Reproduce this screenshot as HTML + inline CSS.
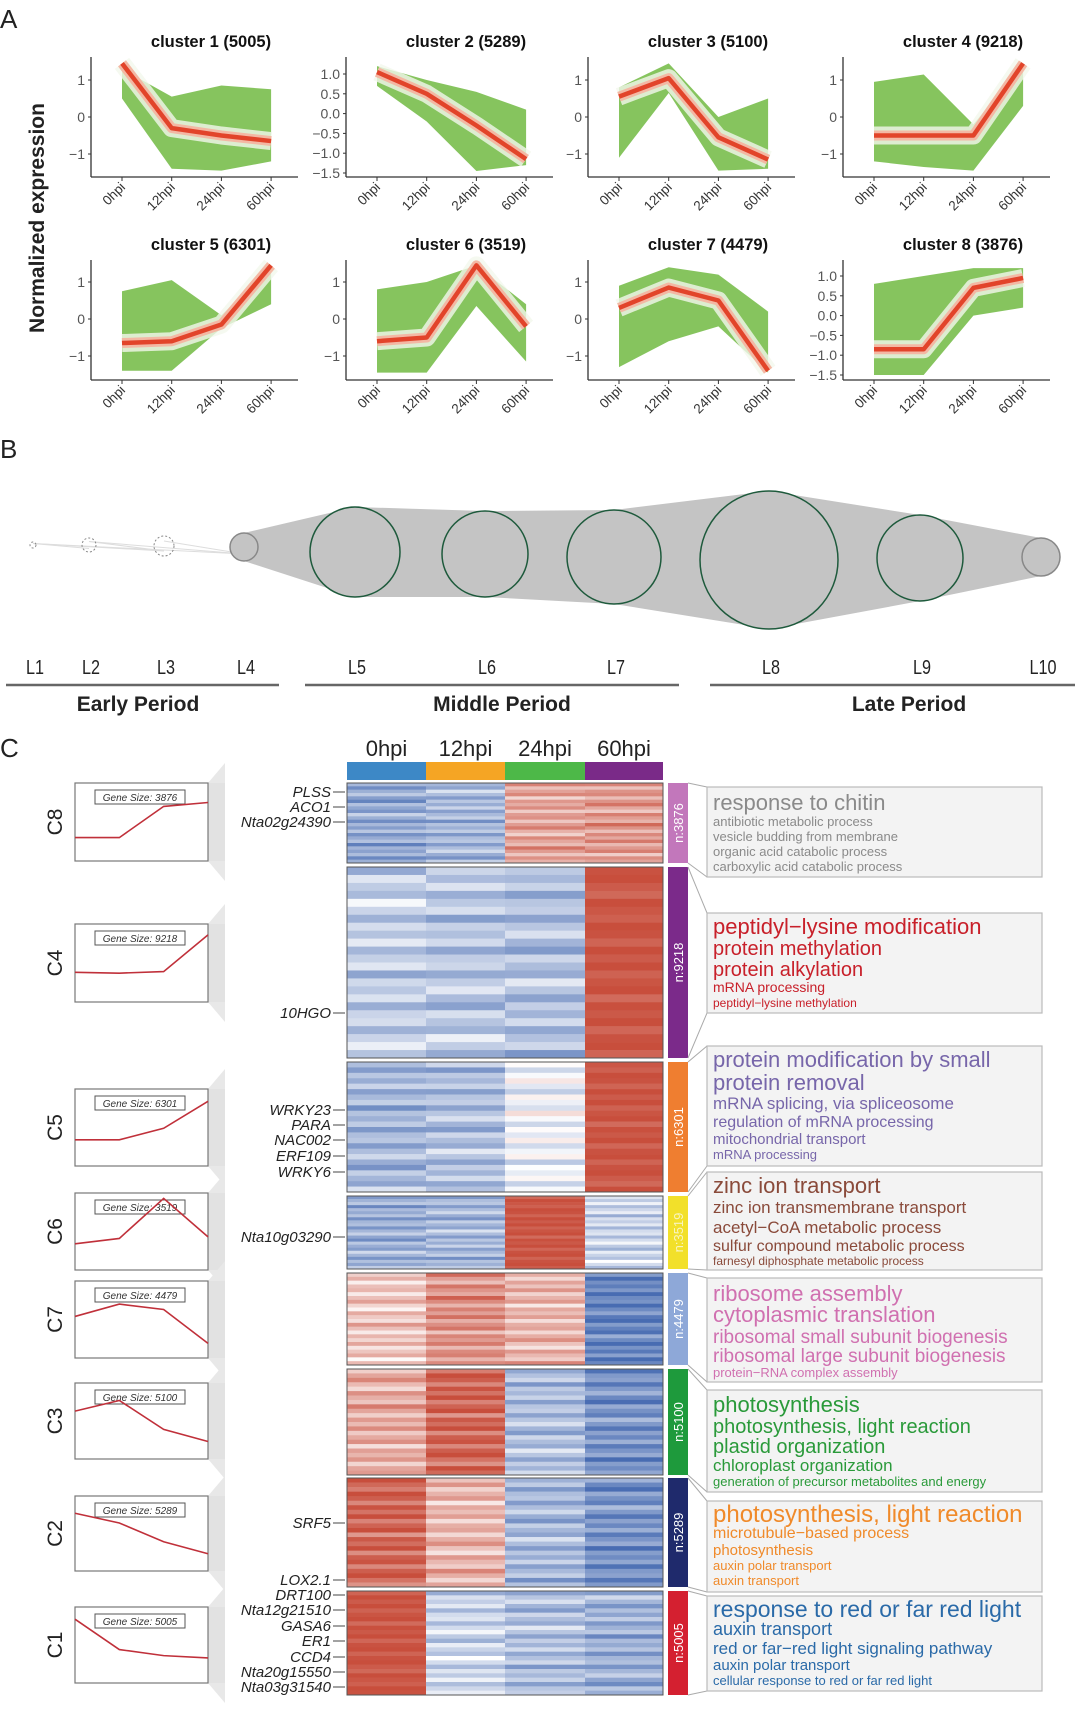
<!DOCTYPE html>
<html><head><meta charset="utf-8">
<style>
html,body{margin:0;padding:0;background:#fff;}
svg{display:block;font-family:"Liberation Sans",Arial,sans-serif;}
</style></head>
<body>
<svg id="fig" width="1080" height="1725" viewBox="0 0 1080 1725" xmlns="http://www.w3.org/2000/svg">
<text x="0" y="28" font-size="26" fill="#222">A</text>
<text x="0" y="458" font-size="26" fill="#222">B</text>
<text x="0" y="757" font-size="26" fill="#222">C</text>
<text transform="translate(44,218) rotate(-90)" text-anchor="middle" font-size="21" font-weight="bold" fill="#222">Normalized expression</text>
<g id="panelA"></g><g id="panelB"></g><g id="panelC"></g>
</svg>
<script>
// ---------- Panel A data ----------
const timeLabels = ["0hpi","12hpi","24hpi","60hpi"];
const clusterNames = ["cluster 1 (5005)","cluster 2 (5289)","cluster 3 (5100)","cluster 4 (9218)","cluster 5 (6301)","cluster 6 (3519)","cluster 7 (4479)","cluster 8 (3876)"];
const clusterCenter = [[1.45,-0.3,-0.5,-0.65],[1.05,0.5,-0.3,-1.15],[0.55,1.05,-0.55,-1.15],[-0.5,-0.5,-0.5,1.45],[-0.65,-0.6,-0.15,1.45],[-0.6,-0.5,1.45,-0.2],[0.3,0.85,0.5,-1.4],[-0.85,-0.85,0.7,0.95]];
const clusterUpper = [[1.3,0.55,0.85,0.75],[1.2,0.85,0.55,0.1],[0.8,1.45,0.0,0.5],[0.95,1.15,-0.2,1.45],[0.75,1.05,0.1,1.45],[0.8,1.0,1.45,0.4],[0.9,1.4,1.2,0.2],[0.8,1.0,1.2,1.2]];
const clusterLower = [[0.5,-1.4,-1.45,-1.2],[0.7,-0.2,-1.45,-1.3],[-1.1,0.65,-1.45,-1.4],[-1.2,-1.35,-1.45,0.3],[-1.4,-1.4,-0.25,0.4],[-1.45,-1.45,0.35,-1.15],[-1.3,-0.6,-0.2,-1.45],[-1.5,-1.5,0.0,0.2]];
const intTicks = ["1","0","\u22121"];
const intTickVals = [1,0,-1];
const decTicks = ["1.0","0.5","0.0","\u22120.5","\u22121.0","\u22121.5"];
const decTickVals = [1,0.5,0,-0.5,-1,-1.5];
const decimalPanels = [1,7];

// ---------- Panel B data ----------
const layerLabels = ["L1","L2","L3","L4","L5","L6","L7","L8","L9","L10"];
const layerSizes = [3,7,10,14,45,43,47,69,43,19];
const periodNames = ["Early Period","Middle Period","Late Period"];

// ---------- Panel C data ----------
const hmClusters = ["C8","C4","C5","C6","C7","C3","C2","C1"];
const hmCounts = ["n:3876","n:9218","n:6301","n:3519","n:4479","n:5100","n:5289","n:5005"];
const hmValues = [[-0.6,-0.5,0.5,0.55],[-0.35,-0.4,-0.45,0.95],[-0.5,-0.45,-0.1,0.95],[-0.55,-0.5,0.95,-0.3],[0.3,0.6,0.4,-0.85],[0.45,0.85,-0.45,-0.75],[0.85,0.4,-0.5,-0.75],[0.95,-0.3,-0.45,-0.55]];
const stripeNoise = [0.2,-0.3,0.1,0.4,-0.1,-0.4,0.3,0.0,-0.2,0.5,0.1,-0.3,0.2,-0.1,0.35,-0.25,0.05,0.3,-0.45,0.15,-0.05,0.25,-0.35,0.1];
const trendValues = [[0.7,0.7,0.3,0.25],[0.62,0.63,0.61,0.14],[0.66,0.66,0.51,0.16],[0.66,0.59,0.07,0.57],[0.46,0.3,0.37,0.81],[0.37,0.23,0.61,0.77],[0.23,0.36,0.61,0.77],[0.16,0.56,0.64,0.67]];
const geneSizes = ["3876","9218","6301","3519","4479","5100","5289","5005"];
const goLines = [
 [["response to chitin",22],["antibiotic metabolic process",13],["vesicle budding from membrane",13],["organic acid catabolic process",13],["carboxylic acid catabolic process",13]],
 [["peptidyl\u2212lysine modification",22],["protein methylation",20],["protein alkylation",20],["mRNA processing",14],["peptidyl\u2212lysine methylation",12]],
 [["protein modification by small",22],["protein removal",22],["mRNA splicing, via spliceosome",17],["regulation of mRNA processing",16],["mitochondrial transport",15],["mRNA processing",13]],
 [["zinc ion transport",22],["zinc ion transmembrane transport",17],["acetyl\u2212CoA metabolic process",17],["sulfur compound metabolic process",16],["farnesyl diphosphate metabolic process",12]],
 [["ribosome assembly",22],["cytoplasmic translation",22],["ribosomal small subunit biogenesis",19],["ribosomal large subunit biogenesis",19],["protein\u2212RNA complex assembly",13]],
 [["photosynthesis",22],["photosynthesis, light reaction",20],["plastid organization",20],["chloroplast organization",17],["generation of precursor metabolites and energy",13]],
 [["photosynthesis, light reaction",24],["microtubule\u2212based process",16],["photosynthesis",15],["auxin polar transport",13],["auxin transport",13]],
 [["response to red or far red light",23],["auxin transport",18],["red or far\u2212red light signaling pathway",17],["auxin polar transport",15],["cellular response to red or far red light",13]]
];
const geneLabels = ["PLSS","ACO1","Nta02g24390","10HGO","WRKY23","PARA","NAC002","ERF109","WRKY6","Nta10g03290","SRF5","LOX2.1","DRT100","Nta12g21510","GASA6","ER1","CCD4","Nta20g15550","Nta03g31540"];

// ---------- layout (not data) ----------
const NS="http://www.w3.org/2000/svg";
function mk(tag,attrs,parent,text){const e=document.createElementNS(NS,tag);for(const k in attrs)e.setAttribute(k,attrs[k]);if(text!==undefined)e.textContent=text;parent.appendChild(e);return e;}
const panelA=document.getElementById('panelA');
const axX=[91,346,588,843];
const rowTop=[57,260];
clusterNames.forEach((name,i)=>{
  const colIdx=i%4,row=Math.floor(i/4);
  const ax=axX[colIdx], oy=row===0?0:202;
  const dec=decimalPanels.includes(i);
  const yS=v=> dec ? (113.6+oy - v*39.6) : (117+oy - v*37);
  const xS=k=> ax+31+k*49.7;
  const g=mk('g',{},panelA);
  
  
  const t=mk('text',{x:ax+120,y:(row===0?47:250),'text-anchor':'middle','font-size':16.5,'font-weight':'bold',fill:'#111'},g,name);
  
  
  let pts=[];for(let k=0;k<4;k++)pts.push(xS(k)+','+yS(clusterUpper[i][k]));
  for(let k=3;k>=0;k--)pts.push(xS(k)+','+yS(clusterLower[i][k]));
  const band=mk('polygon',{points:pts.join(' '),fill:'#86c45e'},g);
  
  
  const cp=clusterCenter[i].map((v,k)=>xS(k)+','+yS(v)).join(' ');
  mk('polyline',{points:cp,fill:'none',stroke:'#f2f8ec',"stroke-width":18,"stroke-linejoin":"round",opacity:0.8},g);
  mk('polyline',{points:cp,fill:'none',stroke:'#f3b8a4',"stroke-width":10,"stroke-linejoin":"round"},g);
  const rl=mk('polyline',{points:cp,fill:'none',stroke:'#e2442a',"stroke-width":4.5,"stroke-linejoin":"round"},g);
  
  
  const ytop=rowTop[row], ybot=ytop+120;
  mk('line',{x1:ax,y1:ytop,x2:ax,y2:ybot,stroke:'#333','stroke-width':1.3},g);
  mk('line',{x1:ax,y1:ybot,x2:ax+207,y2:ybot,stroke:'#333','stroke-width':1.3},g);
  const tl=dec?decTicks:intTicks, tv=dec?decTickVals:intTickVals;
  tl.forEach((lab,j)=>{const y=yS(tv[j]);mk('line',{x1:ax-3,y1:y,x2:ax,y2:y,stroke:'#333'},g);
    const tt=mk('text',{x:ax-6,y:y+5,'text-anchor':'end','font-size':14,fill:'#555'},g,lab);
    
    });
  timeLabels.forEach((lab,k)=>{const x=xS(k);mk('line',{x1:x,y1:ybot,x2:x,y2:ybot+4,stroke:'#333'},g);
    const tt=mk('text',{transform:`translate(${x+4},${ybot+11}) rotate(-45)`,'text-anchor':'end','font-size':13.5,fill:'#333'},g,lab);
    
    });
});

// ---------- Panel B ----------
{
const panelB=document.getElementById('panelB');
const lx=[33,89,164,244,355,485,614,769,920,1041];
const ly=[545,545,546,547,552,554,557,560,558,557];
for(let k=0;k<3;k++){for(let m=k+1;m<4;m++)mk('line',{x1:lx[k],y1:ly[k]-layerSizes[k]*0.5,x2:lx[m],y2:ly[m]+layerSizes[m]*0.5,stroke:'#ddd','stroke-width':1},panelB);}
let topPts=[],botPts=[];
for(let k=3;k<10;k++){topPts.push(lx[k]+','+(ly[k]-layerSizes[k]));botPts.unshift(lx[k]+','+(ly[k]+layerSizes[k]));}
const poly=mk('polygon',{points:topPts.concat(botPts).join(' '),fill:'#c4c4c4'},panelB);


layerSizes.forEach((r,k)=>{
  const c=mk('circle',{cx:lx[k],cy:ly[k],r:r,fill:k<3?'none':'#c4c4c4',stroke:k<3?'#888':(k===3||k===9?'#888':'#1e5a3c'),'stroke-width':k<3?1:1.5,'stroke-dasharray':k<3?'2,2':'none'},panelB);
  
  
  const t=mk('text',{x:lx[k]+2,y:674,'text-anchor':'middle','font-size':20,fill:'#222','textLength':layerLabels[k].length*9,'lengthAdjust':'spacingAndGlyphs'},panelB,layerLabels[k]);
  
  
});
const pLines=[[6,279],[305,679],[710,1075]];
periodNames.forEach((p,k)=>{
  mk('line',{x1:pLines[k][0],y1:685,x2:pLines[k][1],y2:685,stroke:'#666','stroke-width':2.5},panelB);
  const t=mk('text',{x:[138,502,909][k],y:711,'text-anchor':'middle','font-size':21,'font-weight':'bold',fill:'#222'},panelB,p);
  
  
});
}

// ---------- Panel C ----------
const panelC=document.getElementById('panelC');
const colX=[347,426,505,585,663];
const headColors=['#3d88c6','#f5a524','#4db848','#7a2a88'];
timeLabels.forEach((lab,k)=>{
  const r=mk('rect',{x:colX[k],y:762,width:colX[k+1]-colX[k],height:18,fill:headColors[k]},panelC);
  
  
  const t=mk('text',{x:(colX[k]+colX[k+1])/2,y:756,'text-anchor':'middle','font-size':22,fill:'#222'},panelC,lab);
  
  
});
const blockY=[[783,863],[867,1058],[1062,1192],[1196,1269],[1273,1365],[1369,1475],[1478,1587],[1591,1695]];
const trendBox=[[783,861],[924,1002],[1089,1166],[1193,1270],[1281,1358],[1383,1459],[1496,1571],[1607,1683]];
const goBox=[[787,877],[913,1013],[1046,1166],[1172,1270],[1278,1382],[1390,1492],[1501,1592],[1596,1691]];
const goBase=[[810,826,841,856,871],[934,955,976,992,1007],[1067,1090,1109,1127,1144,1159],[1193,1213,1233,1251,1265],[1301,1322,1343,1362,1377],[1412,1433,1453,1471,1486],[1522,1538,1555,1570,1585],[1617,1635,1654,1670,1685]];
const sideColors=['#c277bb','#7b2a8a','#ef7e30','#f2e02a','#8ea8d8','#1e9a3c','#1f2a6c','#d42030'];
const goColors=['#8a8a8a','#c8202a','#7766aa','#8a4a3a','#d070b0','#2a9a3a','#f08a2a','#2a6aa8'];
function heatColor(v){v=Math.max(-1,Math.min(1,v));
  if(v<0){const t=-v;return `rgb(${Math.round(255-t*(255-72))},${Math.round(255-t*(255-108))},${Math.round(255-t*(255-178))})`;}
  const t=v;return `rgb(${Math.round(255-t*(255-200))},${Math.round(255-t*(255-78))},${Math.round(255-t*(255-60))})`;}
hmClusters.forEach((cn,i)=>{
  const [y0,y1]=blockY[i];
  const g=mk('g',{},panelC);
  
  
  const n=24,h=(y1-y0)/n;
  for(let c=0;c<4;c++){
    for(let s=0;s<n;s++){
      const base=hmValues[i][c];
      const nv=stripeNoise[(s+i*5+c*7)%stripeNoise.length];
      const v=base+nv*(Math.abs(base)>0.9?0.25:0.6);
      const r=mk('rect',{x:colX[c],y:y0+s*h,width:colX[c+1]-colX[c]+0.3,height:h+0.3,fill:heatColor(v)},g);
      
      
    }
  }
  mk('rect',{x:347,y:y0,width:316,height:y1-y0,fill:'none',stroke:'#555','stroke-width':1},g);
  const sb=mk('rect',{x:668,y:y0,width:20,height:y1-y0,fill:sideColors[i]},panelC);
  
  
  const st=mk('text',{transform:`translate(683,${(y0+y1)/2}) rotate(-90)`,'text-anchor':'middle','font-size':13,fill:i===3?'#f8f4c0':'#fff'},panelC,hmCounts[i]);
  
  
  const [b0,b1]=goBox[i];
  mk('polyline',{points:`688,${y0} 707,${b0}`,fill:'none',stroke:'#aaa','stroke-width':1},panelC);
  mk('polyline',{points:`688,${y1} 707,${b1}`,fill:'none',stroke:'#aaa','stroke-width':1},panelC);
  const gb=mk('rect',{x:707,y:b0,width:335,height:b1-b0,fill:'#f3f3f3',stroke:'#bbb','stroke-width':1.2},panelC);
  
  
  goLines[i].forEach((ln,j)=>{
    const t=mk('text',{x:713,y:goBase[i][j],'font-size':ln[1],fill:goColors[i]},panelC,ln[0]);
    
    
  });
  const [t0,t1]=trendBox[i];
  mk('polygon',{points:`208,${t0} 225,${Math.max(t0-20,y0-120)} 225,${t1+20} 208,${t1}`,fill:'#e8e8e8'},panelC);
  mk('rect',{x:208,y:t0,width:17,height:t1-t0,fill:'#e2e2e2'},panelC);
  const tb=mk('rect',{x:75,y:t0,width:133,height:t1-t0,fill:'#fff',stroke:'#777','stroke-width':1.2},panelC);
  
  
  mk('rect',{x:95,y:t0+7,width:90,height:14,fill:'#fff',stroke:'#555','stroke-width':1},panelC);
  const gt=mk('text',{x:140,y:t0+18,'text-anchor':'middle','font-size':10,'font-style':'italic',fill:'#333'},panelC,'Gene Size: '+geneSizes[i]);
  
  
  const tp=trendValues[i].map((v,k)=>(75+k*133/3)+','+(t0+v*(t1-t0))).join(' ');
  const tl=mk('polyline',{points:tp,fill:'none',stroke:'#c0303a','stroke-width':1.6},panelC);
  
  
  const cl=mk('text',{transform:`translate(62,${(t0+t1)/2}) rotate(-90)`,'text-anchor':'middle','font-size':21,fill:'#222'},panelC,cn);
  
  
});
const geneY=[792,807,822,1013,1110,1125,1140,1156,1172,1237,1523,1580,1595,1610,1626,1641,1657,1672,1687];
geneLabels.forEach((gname,k)=>{
  const t=mk('text',{x:331,y:geneY[k]+5,'text-anchor':'end','font-size':15,'font-style':'italic',fill:'#222'},panelC,gname);
  
  
  mk('line',{x1:333,y1:geneY[k],x2:345,y2:geneY[k],stroke:'#444','stroke-width':1},panelC);
});
</script>
</body></html>
